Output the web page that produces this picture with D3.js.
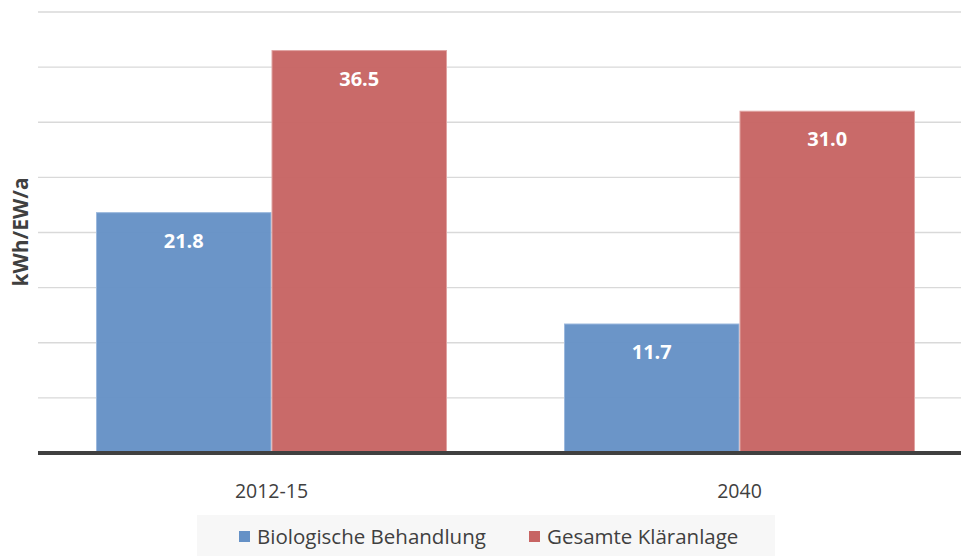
<!DOCTYPE html>
<html>
<head>
<meta charset="utf-8">
<script src="https://cdnjs.cloudflare.com/ajax/libs/d3/7.8.5/d3.min.js"></script>
<style>
  body { margin: 0; background: #fff; }
  svg { display: block; font-family: "Open Sans", sans-serif; }
</style>
</head>
<body>
<div id="chart"></div>
<script>
const categories = ["2012-15", "2040"];
const seriesNames = ["Biologische Behandlung", "Gesamte Kläranlage"];
const bioValues = [21.8, 11.7];
const totalValues = [36.5, 31.0];
const yTicks = [0, 5, 10, 15, 20, 25, 30, 35, 40];
const colors = ["#6591c6", "#c76463"];

const width = 961, height = 556;
const svg = d3.select("#chart").append("svg")
  .attr("width", width)
  .attr("height", height);

const x = d3.scaleBand()
  .domain(categories)
  .range([37.5, 973.5])
  .paddingInner(0.25)
  .paddingOuter(0.125);

const xs = d3.scaleBand()
  .domain(seriesNames)
  .range([0, x.bandwidth()]);

const y = d3.scaleLinear().domain([0, 40]).range([453, 12]);

// gridlines
svg.append("g").selectAll("line")
  .data(yTicks.slice(1))
  .join("line")
  .attr("x1", 38).attr("x2", width)
  .attr("y1", d => y(d)).attr("y2", d => y(d))
  .attr("stroke", "#d9d9d9")
  .attr("stroke-width", 1.3);

const rows = categories.map((c, i) => ({
  cat: c,
  vals: [bioValues[i], totalValues[i]]
}));

const groups = svg.append("g").selectAll("g")
  .data(rows)
  .join("g")
  .attr("transform", d => `translate(${x(d.cat)},0)`);

groups.selectAll("rect")
  .data(d => d.vals.map((v, j) => ({ v, s: seriesNames[j], j })))
  .join("rect")
  .attr("x", d => xs(d.s) + 0.5)
  .attr("width", xs.bandwidth() - 1)
  .attr("y", d => y(d.v))
  .attr("height", d => y(0) - y(d.v))
  .attr("fill", d => colors[d.j])
  .attr("fill-opacity", 0.96)
  .attr("stroke", d => d.j === 0 ? "#9bb8dd" : "#e0a3a2")
  .attr("stroke-width", 1);

groups.selectAll("text")
  .data(d => d.vals.map((v, j) => ({ v, s: seriesNames[j] })))
  .join("text")
  .attr("x", d => xs(d.s) + xs.bandwidth() / 2)
  .attr("y", d => y(d.v) + 35)
  .attr("text-anchor", "middle")
  .attr("fill", "#fff")
  .attr("font-weight", "bold")
  .attr("font-size", 20)
  .text(d => d3.format(".1f")(d.v));

// baseline
svg.append("line")
  .attr("x1", 38).attr("x2", width)
  .attr("y1", y(0)).attr("y2", y(0))
  .attr("stroke", "#404040")
  .attr("stroke-width", 4);

// category labels
svg.append("g").selectAll("text")
  .data(categories)
  .join("text")
  .attr("x", d => x(d) + x.bandwidth() / 2)
  .attr("y", 498)
  .attr("text-anchor", "middle")
  .attr("fill", "#404040")
  .attr("font-size", 19.5)
  .text(d => d);

// y axis title
svg.append("text")
  .attr("transform", "translate(28,232) rotate(-90)")
  .attr("text-anchor", "middle")
  .attr("fill", "#404040")
  .attr("font-weight", "bold")
  .attr("font-size", 21)
  .text("kWh/EW/a");

// legend
svg.append("rect")
  .attr("x", 197).attr("y", 515)
  .attr("width", 578).attr("height", 41)
  .attr("fill", "#f7f7f7");

const legendX = [239, 529];
const leg = svg.append("g").selectAll("g")
  .data(seriesNames)
  .join("g")
  .attr("transform", (d, i) => `translate(${legendX[i]},531)`);
leg.append("rect")
  .attr("width", 11).attr("height", 11)
  .attr("fill", (d, i) => colors[i]);
leg.append("text")
  .attr("x", 18).attr("y", 13)
  .attr("fill", "#404040")
  .attr("font-size", 20.5)
  .text(d => d);
</script>
</body>
</html>
